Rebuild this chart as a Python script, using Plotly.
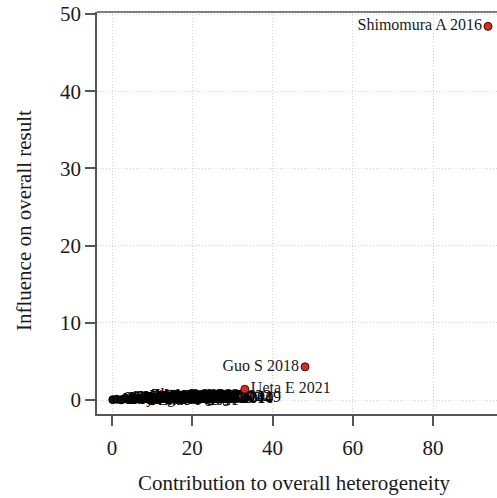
import plotly.graph_objects as go

# Baujat plot: contribution to heterogeneity vs influence on pooled result
cluster_studies = [
    "Abe K 2008", "Chen Y 2012", "Endo T 2010", "Fujii H 2015", "Gao L 2019",
    "Hara M 2013", "Ito S 2017", "Jiang W 2020", "Kato R 2011", "Lee J 2016",
    "Li X 2018", "Liu Z 2014", "Mori T 2009", "Nakai Y 2012", "Ohta K 2019",
    "Park S 2015", "Qian H 2021", "Sato N 2013", "Sun J 2017", "Tanaka M 2010",
    "Wang H 2014", "Wei Y 2020", "Wu J 2018", "Xu L 2016", "Yang Q 2022",
    "Zhang C 2019", "Zhao P 2011", "Zhou F 2021", "Wang J 2020", "Ueda S 2014",
]
cluster_het = [
    0.2, 1.2, 2.3, 3.0, 3.7, 4.5, 5.1, 5.8, 6.4, 7.1,
    7.8, 8.5, 9.1, 9.8, 10.5, 11.2, 11.8, 12.5, 13.2, 13.8,
    14.5, 15.2, 15.9, 16.5, 17.1, 17.8, 10.0, 8.2, 11.6, 18.0,
]
cluster_infl = [
    0.05, 0.10, 0.02, 0.15, 0.20, 0.08, 0.25, 0.12, 0.30, 0.18,
    0.35, 0.22, 0.40, 0.28, 0.32, 0.10, 0.45, 0.26, 0.38, 0.14,
    0.30, 0.20, 0.42, 0.16, 0.34, 0.24, -0.10, 0.55, 0.50, 0.12,
]

outlier_studies = ["Shimomura A 2016", "Guo S 2018", "Ueta E 2021"]
outlier_het = [93.7, 48.1, 33.1]
outlier_infl = [48.4, 4.3, 1.4]
outlier_textpos = ["middle left", "middle left", "middle right"]

x_ticks = [0, 20, 40, 60, 80]
y_ticks = [0, 10, 20, 30, 40, 50]

FONT = "Liberation Serif, Times New Roman, serif"
AXIS_COL = "#555555"
TEXT_COL = "#1a1a1a"

fig = go.Figure()

fig.add_trace(go.Scatter(
    x=cluster_het, y=cluster_infl, mode="markers+text",
    text=cluster_studies, textposition="middle right",
    textfont=dict(family=FONT, size=16, color="#000000"),
    marker=dict(size=8, color="#111111", line=dict(color="#000000", width=1)),
    hoverinfo="text", showlegend=False, cliponaxis=False,
))

fig.add_trace(go.Scatter(
    x=outlier_het, y=outlier_infl, mode="markers+text",
    text=outlier_studies, textposition=outlier_textpos,
    textfont=dict(family=FONT, size=16, color=TEXT_COL),
    marker=dict(size=8, color="#d92b1f", line=dict(color="#3a0f0c", width=1)),
    hoverinfo="text", showlegend=False, cliponaxis=False,
))

axis_common = dict(
    ticks="outside", ticklen=10, tickcolor=AXIS_COL, tickwidth=1.5,
    showline=True, linecolor=AXIS_COL, linewidth=1.5,
    showgrid=True, gridcolor="#d4d4d4", griddash="1px,2px", gridwidth=1,
    zeroline=False, tickfont=dict(family=FONT, size=21, color=TEXT_COL),
)

fig.update_layout(
    width=497, height=498,
    margin=dict(l=97, r=0, t=12, b=84),
    paper_bgcolor="white", plot_bgcolor="white",
    font=dict(family=FONT, size=21, color=TEXT_COL),
    xaxis=dict(range=[-3.74, 95.94], tickvals=x_ticks, ticklabelstandoff=4,
               **axis_common),
    yaxis=dict(range=[-1.81, 50.26], tickvals=y_ticks, **axis_common),
    shapes=[dict(type="line", xref="paper", yref="paper", x0=0, x1=1, y0=1, y1=1,
                 line=dict(color=AXIS_COL, width=1.5))],
    annotations=[
        dict(text="Contribution to overall heterogeneity", xref="paper", yref="paper",
             x=0.4925, y=-0.171, showarrow=False, xanchor="center", yanchor="middle",
             font=dict(family=FONT, size=21, color=TEXT_COL)),
        dict(text="Influence on overall result", xref="paper", yref="paper",
             x=-0.1825, y=0.48, showarrow=False, textangle=-90,
             xanchor="center", yanchor="middle",
             font=dict(family=FONT, size=21, color=TEXT_COL)),
    ],
)

fig.write_html("out.html")
